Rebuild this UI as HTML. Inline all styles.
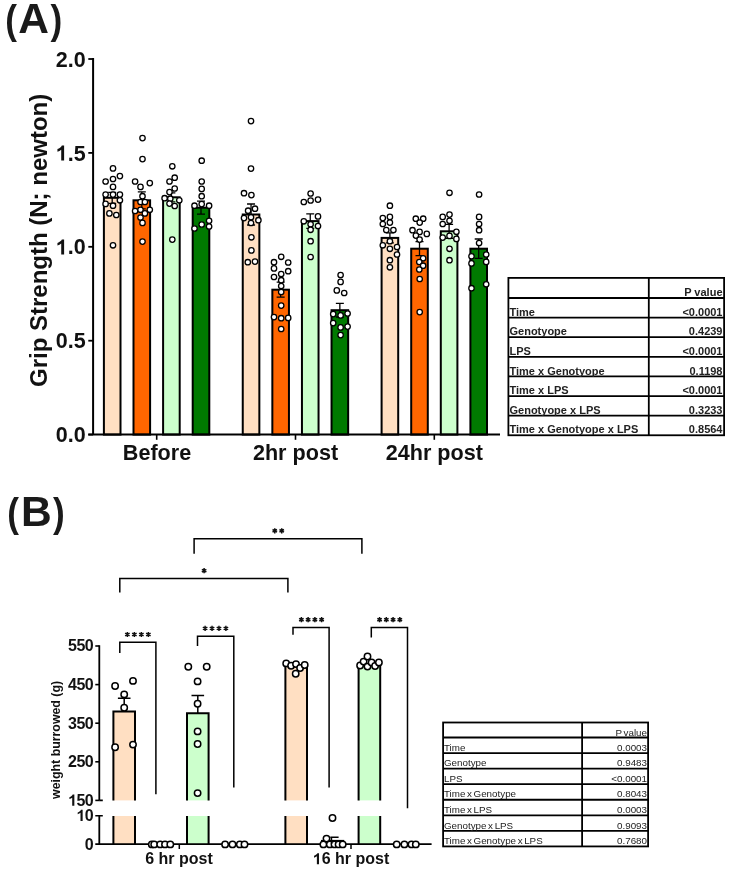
<!DOCTYPE html>
<html><head><meta charset="utf-8"><style>
html,body{margin:0;padding:0;background:#fff;}
svg{display:block;font-family:"Liberation Sans",sans-serif;filter:blur(0.3px);}
</style></head><body>
<svg width="733" height="871" viewBox="0 0 733 871">
<rect width="733" height="871" fill="#fff"/>
<g id="panelA">
<text transform="translate(5.35,33.6) scale(0.88,1)" font-size="40" font-weight="bold" fill="#1a1a1a">(</text>
<text x="18.2" y="33.2" font-size="42.5" font-weight="bold" fill="#1a1a1a">A</text>
<text transform="translate(50.6,33.6) scale(0.88,1)" font-size="40" font-weight="bold" fill="#1a1a1a">)</text>
<text transform="translate(46.5,240.4) rotate(-90)" text-anchor="middle" font-size="24" font-weight="bold" fill="#111">Grip Strength (N; newton)</text>
<rect x="103.90" y="197.80" width="16.60" height="236.80" fill="#FFDFC2" stroke="#000" stroke-width="2"/>
<rect x="133.50" y="200.30" width="16.60" height="234.30" fill="#FF6600" stroke="#000" stroke-width="2"/>
<rect x="163.10" y="197.30" width="16.60" height="237.30" fill="#CCFFCC" stroke="#000" stroke-width="2"/>
<rect x="192.70" y="207.70" width="16.60" height="226.90" fill="#007A00" stroke="#000" stroke-width="2"/>
<rect x="242.75" y="214.50" width="16.60" height="220.10" fill="#FFDFC2" stroke="#000" stroke-width="2"/>
<rect x="272.35" y="289.70" width="16.60" height="144.90" fill="#FF6600" stroke="#000" stroke-width="2"/>
<rect x="301.95" y="221.10" width="16.60" height="213.50" fill="#CCFFCC" stroke="#000" stroke-width="2"/>
<rect x="331.55" y="310.20" width="16.60" height="124.40" fill="#007A00" stroke="#000" stroke-width="2"/>
<rect x="381.60" y="237.90" width="16.60" height="196.70" fill="#FFDFC2" stroke="#000" stroke-width="2"/>
<rect x="411.20" y="248.70" width="16.60" height="185.90" fill="#FF6600" stroke="#000" stroke-width="2"/>
<rect x="440.80" y="231.30" width="16.60" height="203.30" fill="#CCFFCC" stroke="#000" stroke-width="2"/>
<rect x="470.40" y="248.70" width="16.60" height="185.90" fill="#007A00" stroke="#000" stroke-width="2"/>
<path d="M112.20 192.30V203.30M108.20 192.30H116.20M108.20 203.30H116.20" stroke="#000" stroke-width="1.3" fill="none"/>
<path d="M141.80 191.80V208.80M137.80 191.80H145.80M137.80 208.80H145.80" stroke="#000" stroke-width="1.3" fill="none"/>
<path d="M171.40 192.80V201.80M167.40 192.80H175.40M167.40 201.80H175.40" stroke="#000" stroke-width="1.3" fill="none"/>
<path d="M201.00 201.20V214.20M197.00 201.20H205.00M197.00 214.20H205.00" stroke="#000" stroke-width="1.3" fill="none"/>
<path d="M251.05 204.00V225.00M247.05 204.00H255.05M247.05 225.00H255.05" stroke="#000" stroke-width="1.3" fill="none"/>
<path d="M280.65 282.20V297.20M276.65 282.20H284.65M276.65 297.20H284.65" stroke="#000" stroke-width="1.3" fill="none"/>
<path d="M310.25 213.90V228.30M306.25 213.90H314.25M306.25 228.30H314.25" stroke="#000" stroke-width="1.3" fill="none"/>
<path d="M339.85 303.40V317.00M335.85 303.40H343.85M335.85 317.00H343.85" stroke="#000" stroke-width="1.3" fill="none"/>
<path d="M389.90 232.90V242.90M385.90 232.90H393.90M385.90 242.90H393.90" stroke="#000" stroke-width="1.3" fill="none"/>
<path d="M419.50 241.70V255.70M415.50 241.70H423.50M415.50 255.70H423.50" stroke="#000" stroke-width="1.3" fill="none"/>
<path d="M449.10 224.30V238.30M445.10 224.30H453.10M445.10 238.30H453.10" stroke="#000" stroke-width="1.3" fill="none"/>
<path d="M478.70 239.00V258.40M474.70 239.00H482.70M474.70 258.40H482.70" stroke="#000" stroke-width="1.3" fill="none"/>
<circle cx="113" cy="168.4" r="2.7" fill="#fff" stroke="#000" stroke-width="1.3"/>
<circle cx="119.9" cy="176.1" r="2.7" fill="#fff" stroke="#000" stroke-width="1.3"/>
<circle cx="105.6" cy="181.5" r="2.7" fill="#fff" stroke="#000" stroke-width="1.3"/>
<circle cx="113" cy="179" r="2.7" fill="#fff" stroke="#000" stroke-width="1.3"/>
<circle cx="113" cy="186.9" r="2.7" fill="#fff" stroke="#000" stroke-width="1.3"/>
<circle cx="105.6" cy="194.6" r="2.7" fill="#fff" stroke="#000" stroke-width="1.3"/>
<circle cx="113" cy="194.6" r="2.7" fill="#fff" stroke="#000" stroke-width="1.3"/>
<circle cx="119.9" cy="194.6" r="2.7" fill="#fff" stroke="#000" stroke-width="1.3"/>
<circle cx="119.9" cy="200.3" r="2.7" fill="#fff" stroke="#000" stroke-width="1.3"/>
<circle cx="105.6" cy="203.9" r="2.7" fill="#fff" stroke="#000" stroke-width="1.3"/>
<circle cx="113" cy="205.7" r="2.7" fill="#fff" stroke="#000" stroke-width="1.3"/>
<circle cx="109.4" cy="213.4" r="2.7" fill="#fff" stroke="#000" stroke-width="1.3"/>
<circle cx="116.3" cy="215" r="2.7" fill="#fff" stroke="#000" stroke-width="1.3"/>
<circle cx="113" cy="245.3" r="2.7" fill="#fff" stroke="#000" stroke-width="1.3"/>
<circle cx="142.5" cy="138.1" r="2.7" fill="#fff" stroke="#000" stroke-width="1.3"/>
<circle cx="142.5" cy="159.1" r="2.7" fill="#fff" stroke="#000" stroke-width="1.3"/>
<circle cx="135.1" cy="181.5" r="2.7" fill="#fff" stroke="#000" stroke-width="1.3"/>
<circle cx="149.8" cy="183.1" r="2.7" fill="#fff" stroke="#000" stroke-width="1.3"/>
<circle cx="140.5" cy="186.9" r="2.7" fill="#fff" stroke="#000" stroke-width="1.3"/>
<circle cx="142.5" cy="196.2" r="2.7" fill="#fff" stroke="#000" stroke-width="1.3"/>
<circle cx="140.5" cy="202" r="2.7" fill="#fff" stroke="#000" stroke-width="1.3"/>
<circle cx="144.9" cy="202" r="2.7" fill="#fff" stroke="#000" stroke-width="1.3"/>
<circle cx="135.1" cy="211" r="2.7" fill="#fff" stroke="#000" stroke-width="1.3"/>
<circle cx="140.5" cy="209.8" r="2.7" fill="#fff" stroke="#000" stroke-width="1.3"/>
<circle cx="149.8" cy="209.8" r="2.7" fill="#fff" stroke="#000" stroke-width="1.3"/>
<circle cx="144.9" cy="213.4" r="2.7" fill="#fff" stroke="#000" stroke-width="1.3"/>
<circle cx="140.5" cy="217.5" r="2.7" fill="#fff" stroke="#000" stroke-width="1.3"/>
<circle cx="142.5" cy="222.9" r="2.7" fill="#fff" stroke="#000" stroke-width="1.3"/>
<circle cx="142.5" cy="241.6" r="2.7" fill="#fff" stroke="#000" stroke-width="1.3"/>
<circle cx="172.3" cy="166.3" r="2.7" fill="#fff" stroke="#000" stroke-width="1.3"/>
<circle cx="174.7" cy="177.7" r="2.7" fill="#fff" stroke="#000" stroke-width="1.3"/>
<circle cx="169.5" cy="181.5" r="2.7" fill="#fff" stroke="#000" stroke-width="1.3"/>
<circle cx="174.7" cy="188.5" r="2.7" fill="#fff" stroke="#000" stroke-width="1.3"/>
<circle cx="169.5" cy="192.1" r="2.7" fill="#fff" stroke="#000" stroke-width="1.3"/>
<circle cx="164.6" cy="198.2" r="2.7" fill="#fff" stroke="#000" stroke-width="1.3"/>
<circle cx="170.3" cy="198.7" r="2.7" fill="#fff" stroke="#000" stroke-width="1.3"/>
<circle cx="179.3" cy="200.3" r="2.7" fill="#fff" stroke="#000" stroke-width="1.3"/>
<circle cx="169.5" cy="203.6" r="2.7" fill="#fff" stroke="#000" stroke-width="1.3"/>
<circle cx="174.7" cy="206" r="2.7" fill="#fff" stroke="#000" stroke-width="1.3"/>
<circle cx="172.3" cy="239.6" r="2.7" fill="#fff" stroke="#000" stroke-width="1.3"/>
<circle cx="201.7" cy="160.7" r="2.7" fill="#fff" stroke="#000" stroke-width="1.3"/>
<circle cx="201.7" cy="181.5" r="2.7" fill="#fff" stroke="#000" stroke-width="1.3"/>
<circle cx="201.7" cy="188.9" r="2.7" fill="#fff" stroke="#000" stroke-width="1.3"/>
<circle cx="201.7" cy="196.2" r="2.7" fill="#fff" stroke="#000" stroke-width="1.3"/>
<circle cx="194.5" cy="205.7" r="2.7" fill="#fff" stroke="#000" stroke-width="1.3"/>
<circle cx="201.7" cy="204.1" r="2.7" fill="#fff" stroke="#000" stroke-width="1.3"/>
<circle cx="209.1" cy="205.7" r="2.7" fill="#fff" stroke="#000" stroke-width="1.3"/>
<circle cx="209.1" cy="220.8" r="2.7" fill="#fff" stroke="#000" stroke-width="1.3"/>
<circle cx="201.7" cy="224.5" r="2.7" fill="#fff" stroke="#000" stroke-width="1.3"/>
<circle cx="209.1" cy="226.5" r="2.7" fill="#fff" stroke="#000" stroke-width="1.3"/>
<circle cx="194.5" cy="228.5" r="2.7" fill="#fff" stroke="#000" stroke-width="1.3"/>
<circle cx="251" cy="121.1" r="2.7" fill="#fff" stroke="#000" stroke-width="1.3"/>
<circle cx="251" cy="168.6" r="2.7" fill="#fff" stroke="#000" stroke-width="1.3"/>
<circle cx="244" cy="193.2" r="2.7" fill="#fff" stroke="#000" stroke-width="1.3"/>
<circle cx="251.4" cy="195.1" r="2.7" fill="#fff" stroke="#000" stroke-width="1.3"/>
<circle cx="248.1" cy="210.7" r="2.7" fill="#fff" stroke="#000" stroke-width="1.3"/>
<circle cx="255" cy="208.7" r="2.7" fill="#fff" stroke="#000" stroke-width="1.3"/>
<circle cx="244" cy="218.1" r="2.7" fill="#fff" stroke="#000" stroke-width="1.3"/>
<circle cx="251" cy="217.2" r="2.7" fill="#fff" stroke="#000" stroke-width="1.3"/>
<circle cx="258.4" cy="220.2" r="2.7" fill="#fff" stroke="#000" stroke-width="1.3"/>
<circle cx="251" cy="223" r="2.7" fill="#fff" stroke="#000" stroke-width="1.3"/>
<circle cx="251.4" cy="237.3" r="2.7" fill="#fff" stroke="#000" stroke-width="1.3"/>
<circle cx="251.4" cy="250.4" r="2.7" fill="#fff" stroke="#000" stroke-width="1.3"/>
<circle cx="247.8" cy="262.2" r="2.7" fill="#fff" stroke="#000" stroke-width="1.3"/>
<circle cx="255" cy="261.6" r="2.7" fill="#fff" stroke="#000" stroke-width="1.3"/>
<circle cx="281.2" cy="256.8" r="2.7" fill="#fff" stroke="#000" stroke-width="1.3"/>
<circle cx="274" cy="262.2" r="2.7" fill="#fff" stroke="#000" stroke-width="1.3"/>
<circle cx="288.2" cy="262.5" r="2.7" fill="#fff" stroke="#000" stroke-width="1.3"/>
<circle cx="274" cy="268.4" r="2.7" fill="#fff" stroke="#000" stroke-width="1.3"/>
<circle cx="288.2" cy="271.2" r="2.7" fill="#fff" stroke="#000" stroke-width="1.3"/>
<circle cx="281.2" cy="274" r="2.7" fill="#fff" stroke="#000" stroke-width="1.3"/>
<circle cx="274" cy="277" r="2.7" fill="#fff" stroke="#000" stroke-width="1.3"/>
<circle cx="281.2" cy="280.2" r="2.7" fill="#fff" stroke="#000" stroke-width="1.3"/>
<circle cx="281.2" cy="286" r="2.7" fill="#fff" stroke="#000" stroke-width="1.3"/>
<circle cx="281.2" cy="292" r="2.7" fill="#fff" stroke="#000" stroke-width="1.3"/>
<circle cx="281.2" cy="305.6" r="2.7" fill="#fff" stroke="#000" stroke-width="1.3"/>
<circle cx="274" cy="317.1" r="2.7" fill="#fff" stroke="#000" stroke-width="1.3"/>
<circle cx="281.2" cy="318.2" r="2.7" fill="#fff" stroke="#000" stroke-width="1.3"/>
<circle cx="288.2" cy="317.9" r="2.7" fill="#fff" stroke="#000" stroke-width="1.3"/>
<circle cx="281.2" cy="329" r="2.7" fill="#fff" stroke="#000" stroke-width="1.3"/>
<circle cx="310.6" cy="193.5" r="2.7" fill="#fff" stroke="#000" stroke-width="1.3"/>
<circle cx="303.8" cy="202" r="2.7" fill="#fff" stroke="#000" stroke-width="1.3"/>
<circle cx="310.6" cy="200.5" r="2.7" fill="#fff" stroke="#000" stroke-width="1.3"/>
<circle cx="318" cy="199.6" r="2.7" fill="#fff" stroke="#000" stroke-width="1.3"/>
<circle cx="318" cy="216.4" r="2.7" fill="#fff" stroke="#000" stroke-width="1.3"/>
<circle cx="303.8" cy="221.3" r="2.7" fill="#fff" stroke="#000" stroke-width="1.3"/>
<circle cx="310.6" cy="224.2" r="2.7" fill="#fff" stroke="#000" stroke-width="1.3"/>
<circle cx="318" cy="226" r="2.7" fill="#fff" stroke="#000" stroke-width="1.3"/>
<circle cx="310.6" cy="229.8" r="2.7" fill="#fff" stroke="#000" stroke-width="1.3"/>
<circle cx="310.6" cy="241.2" r="2.7" fill="#fff" stroke="#000" stroke-width="1.3"/>
<circle cx="310.6" cy="257" r="2.7" fill="#fff" stroke="#000" stroke-width="1.3"/>
<circle cx="340.6" cy="275" r="2.7" fill="#fff" stroke="#000" stroke-width="1.3"/>
<circle cx="340.6" cy="281.9" r="2.7" fill="#fff" stroke="#000" stroke-width="1.3"/>
<circle cx="336.8" cy="290.4" r="2.7" fill="#fff" stroke="#000" stroke-width="1.3"/>
<circle cx="344.2" cy="293" r="2.7" fill="#fff" stroke="#000" stroke-width="1.3"/>
<circle cx="333.2" cy="314.1" r="2.7" fill="#fff" stroke="#000" stroke-width="1.3"/>
<circle cx="340.6" cy="315.4" r="2.7" fill="#fff" stroke="#000" stroke-width="1.3"/>
<circle cx="347.6" cy="313.5" r="2.7" fill="#fff" stroke="#000" stroke-width="1.3"/>
<circle cx="333.2" cy="323.1" r="2.7" fill="#fff" stroke="#000" stroke-width="1.3"/>
<circle cx="340.6" cy="327.4" r="2.7" fill="#fff" stroke="#000" stroke-width="1.3"/>
<circle cx="347.6" cy="326.6" r="2.7" fill="#fff" stroke="#000" stroke-width="1.3"/>
<circle cx="340.6" cy="335.1" r="2.7" fill="#fff" stroke="#000" stroke-width="1.3"/>
<circle cx="389.9" cy="205.7" r="2.7" fill="#fff" stroke="#000" stroke-width="1.3"/>
<circle cx="382.8" cy="218.1" r="2.7" fill="#fff" stroke="#000" stroke-width="1.3"/>
<circle cx="389.9" cy="216.9" r="2.7" fill="#fff" stroke="#000" stroke-width="1.3"/>
<circle cx="382.8" cy="224" r="2.7" fill="#fff" stroke="#000" stroke-width="1.3"/>
<circle cx="389.9" cy="222.6" r="2.7" fill="#fff" stroke="#000" stroke-width="1.3"/>
<circle cx="386.3" cy="230" r="2.7" fill="#fff" stroke="#000" stroke-width="1.3"/>
<circle cx="393.4" cy="230" r="2.7" fill="#fff" stroke="#000" stroke-width="1.3"/>
<circle cx="389.9" cy="241.2" r="2.7" fill="#fff" stroke="#000" stroke-width="1.3"/>
<circle cx="382.8" cy="245.3" r="2.7" fill="#fff" stroke="#000" stroke-width="1.3"/>
<circle cx="389.9" cy="248.8" r="2.7" fill="#fff" stroke="#000" stroke-width="1.3"/>
<circle cx="397" cy="247" r="2.7" fill="#fff" stroke="#000" stroke-width="1.3"/>
<circle cx="397" cy="254.5" r="2.7" fill="#fff" stroke="#000" stroke-width="1.3"/>
<circle cx="389.9" cy="260.2" r="2.7" fill="#fff" stroke="#000" stroke-width="1.3"/>
<circle cx="389.9" cy="267.3" r="2.7" fill="#fff" stroke="#000" stroke-width="1.3"/>
<circle cx="415.8" cy="218.7" r="2.7" fill="#fff" stroke="#000" stroke-width="1.3"/>
<circle cx="423.2" cy="218.7" r="2.7" fill="#fff" stroke="#000" stroke-width="1.3"/>
<circle cx="419.7" cy="222.6" r="2.7" fill="#fff" stroke="#000" stroke-width="1.3"/>
<circle cx="412.5" cy="230.2" r="2.7" fill="#fff" stroke="#000" stroke-width="1.3"/>
<circle cx="419.6" cy="231.9" r="2.7" fill="#fff" stroke="#000" stroke-width="1.3"/>
<circle cx="426.8" cy="233.9" r="2.7" fill="#fff" stroke="#000" stroke-width="1.3"/>
<circle cx="415.9" cy="235.6" r="2.7" fill="#fff" stroke="#000" stroke-width="1.3"/>
<circle cx="419.6" cy="239.6" r="2.7" fill="#fff" stroke="#000" stroke-width="1.3"/>
<circle cx="423.1" cy="258.3" r="2.7" fill="#fff" stroke="#000" stroke-width="1.3"/>
<circle cx="419.3" cy="262" r="2.7" fill="#fff" stroke="#000" stroke-width="1.3"/>
<circle cx="423.1" cy="265.7" r="2.7" fill="#fff" stroke="#000" stroke-width="1.3"/>
<circle cx="419.3" cy="269.5" r="2.7" fill="#fff" stroke="#000" stroke-width="1.3"/>
<circle cx="419.7" cy="279" r="2.7" fill="#fff" stroke="#000" stroke-width="1.3"/>
<circle cx="419.7" cy="312.1" r="2.7" fill="#fff" stroke="#000" stroke-width="1.3"/>
<circle cx="449.5" cy="192.8" r="2.7" fill="#fff" stroke="#000" stroke-width="1.3"/>
<circle cx="442.7" cy="216.9" r="2.7" fill="#fff" stroke="#000" stroke-width="1.3"/>
<circle cx="449.5" cy="214.6" r="2.7" fill="#fff" stroke="#000" stroke-width="1.3"/>
<circle cx="449.5" cy="220.8" r="2.7" fill="#fff" stroke="#000" stroke-width="1.3"/>
<circle cx="442.7" cy="224" r="2.7" fill="#fff" stroke="#000" stroke-width="1.3"/>
<circle cx="456.4" cy="231.8" r="2.7" fill="#fff" stroke="#000" stroke-width="1.3"/>
<circle cx="442.7" cy="237.6" r="2.7" fill="#fff" stroke="#000" stroke-width="1.3"/>
<circle cx="449.5" cy="235.9" r="2.7" fill="#fff" stroke="#000" stroke-width="1.3"/>
<circle cx="456.4" cy="238.9" r="2.7" fill="#fff" stroke="#000" stroke-width="1.3"/>
<circle cx="449.5" cy="248.8" r="2.7" fill="#fff" stroke="#000" stroke-width="1.3"/>
<circle cx="449.5" cy="260.2" r="2.7" fill="#fff" stroke="#000" stroke-width="1.3"/>
<circle cx="479.1" cy="194.5" r="2.7" fill="#fff" stroke="#000" stroke-width="1.3"/>
<circle cx="479.1" cy="216.9" r="2.7" fill="#fff" stroke="#000" stroke-width="1.3"/>
<circle cx="479.1" cy="224" r="2.7" fill="#fff" stroke="#000" stroke-width="1.3"/>
<circle cx="479.1" cy="230.2" r="2.7" fill="#fff" stroke="#000" stroke-width="1.3"/>
<circle cx="479.1" cy="243" r="2.7" fill="#fff" stroke="#000" stroke-width="1.3"/>
<circle cx="471.5" cy="256.3" r="2.7" fill="#fff" stroke="#000" stroke-width="1.3"/>
<circle cx="486.2" cy="254.5" r="2.7" fill="#fff" stroke="#000" stroke-width="1.3"/>
<circle cx="471.5" cy="263.4" r="2.7" fill="#fff" stroke="#000" stroke-width="1.3"/>
<circle cx="486.2" cy="261.9" r="2.7" fill="#fff" stroke="#000" stroke-width="1.3"/>
<circle cx="486.2" cy="284.3" r="2.7" fill="#fff" stroke="#000" stroke-width="1.3"/>
<circle cx="471.5" cy="288.2" r="2.7" fill="#fff" stroke="#000" stroke-width="1.3"/>
<path d="M93.1 58V435.6M88.3 434.6H500" stroke="#000" stroke-width="2" fill="none"/>
<path d="M88.3 434.60H93.1" stroke="#000" stroke-width="1.8"/>
<text x="55.71" y="442.20" font-size="21.5" font-weight="bold" fill="#111">0.0</text>
<path d="M88.3 340.70H93.1" stroke="#000" stroke-width="1.8"/>
<text x="55.71" y="348.30" font-size="21.5" font-weight="bold" fill="#111">0.5</text>
<path d="M88.3 246.80H93.1" stroke="#000" stroke-width="1.8"/>
<path transform="translate(55.71,254.40) scale(0.01050,-0.01050)" d="M800 0L525 0L525 1030C430 945 300 880 165 842L165 1090C260 1120 355 1170 440 1245C520 1315 565 1380 585 1430L800 1430Z" fill="#111"/>
<text x="67.67" y="254.40" font-size="21.5" font-weight="bold" fill="#111">.0</text>
<path d="M88.3 152.90H93.1" stroke="#000" stroke-width="1.8"/>
<path transform="translate(55.71,160.50) scale(0.01050,-0.01050)" d="M800 0L525 0L525 1030C430 945 300 880 165 842L165 1090C260 1120 355 1170 440 1245C520 1315 565 1380 585 1430L800 1430Z" fill="#111"/>
<text x="67.67" y="160.50" font-size="21.5" font-weight="bold" fill="#111">.5</text>
<path d="M88.3 59.00H93.1" stroke="#000" stroke-width="1.8"/>
<text x="55.71" y="66.60" font-size="21.5" font-weight="bold" fill="#111">2.0</text>
<path d="M156.7 434.4V439.8" stroke="#000" stroke-width="1.6"/>
<path d="M295.5 434.4V439.8" stroke="#000" stroke-width="1.6"/>
<path d="M434.3 434.4V439.8" stroke="#000" stroke-width="1.6"/>
<text x="157" y="460.2" text-anchor="middle" font-size="21.6" font-weight="bold" fill="#111">Before</text>
<text x="295.5" y="460.2" text-anchor="middle" font-size="21.6" font-weight="bold" fill="#111">2hr post</text>
<text x="434.3" y="460.2" text-anchor="middle" font-size="21.6" font-weight="bold" fill="#111">24hr post</text>
</g>
<g id="tableA">
<rect x="508.4" y="277.9" width="215.70000000000005" height="157.37" fill="none" stroke="#000" stroke-width="1.8"/>
<path d="M648.8 277.9V435.27" stroke="#000" stroke-width="1.8"/>
<path d="M508.4 298.00H724.1" stroke="#000" stroke-width="1.8"/>
<path d="M508.4 317.61H724.1" stroke="#000" stroke-width="1.8"/>
<path d="M508.4 337.22H724.1" stroke="#000" stroke-width="1.8"/>
<path d="M508.4 356.83H724.1" stroke="#000" stroke-width="1.8"/>
<path d="M508.4 376.44H724.1" stroke="#000" stroke-width="1.8"/>
<path d="M508.4 396.05H724.1" stroke="#000" stroke-width="1.8"/>
<path d="M508.4 415.66H724.1" stroke="#000" stroke-width="1.8"/>
<text x="722.5" y="295.70" text-anchor="end" font-size="11" font-weight="bold" fill="#222">P value</text>
<text x="509.5" y="315.71" font-size="11" font-weight="bold" fill="#222">Time</text>
<text x="722.5" y="315.71" text-anchor="end" font-size="11" font-weight="bold" fill="#222"><0.0001</text>
<text x="509.5" y="335.32" font-size="11" font-weight="bold" fill="#222">Genotyope</text>
<text x="722.5" y="335.32" text-anchor="end" font-size="11" font-weight="bold" fill="#222">0.4239</text>
<text x="509.5" y="354.93" font-size="11" font-weight="bold" fill="#222">LPS</text>
<text x="722.5" y="354.93" text-anchor="end" font-size="11" font-weight="bold" fill="#222"><0.0001</text>
<text x="509.5" y="374.54" font-size="11" font-weight="bold" fill="#222">Time x Genotyope</text>
<text x="722.5" y="374.54" text-anchor="end" font-size="11" font-weight="bold" fill="#222">0.1198</text>
<text x="509.5" y="394.15" font-size="11" font-weight="bold" fill="#222">Time x LPS</text>
<text x="722.5" y="394.15" text-anchor="end" font-size="11" font-weight="bold" fill="#222"><0.0001</text>
<text x="509.5" y="413.76" font-size="11" font-weight="bold" fill="#222">Genotyope x LPS</text>
<text x="722.5" y="413.76" text-anchor="end" font-size="11" font-weight="bold" fill="#222">0.3233</text>
<text x="509.5" y="433.37" font-size="11" font-weight="bold" fill="#222">Time x Genotyope x LPS</text>
<text x="722.5" y="433.37" text-anchor="end" font-size="11" font-weight="bold" fill="#222">0.8564</text>
</g>
<g id="panelB">
<text transform="translate(7.25,527.2) scale(0.88,1)" font-size="40" font-weight="bold" fill="#1a1a1a">(</text>
<text x="20.9" y="526.3" font-size="42.5" font-weight="bold" fill="#1a1a1a">B</text>
<text transform="translate(53,527.2) scale(0.88,1)" font-size="40" font-weight="bold" fill="#1a1a1a">)</text>
<text transform="translate(60.3,739.9) rotate(-90)" text-anchor="middle" font-size="12" font-weight="bold" fill="#111" textLength="118" lengthAdjust="spacingAndGlyphs">weight burrowed (g)</text>
<rect x="113.40" y="711.50" width="21.60" height="88.90" fill="#FFDFC2"/>
<rect x="113.40" y="816.0" width="21.60" height="28.10" fill="#FFDFC2"/>
<path d="M113.40 800.4V711.50H135.00V800.4M113.40 816V844.1M135.00 816V844.1" stroke="#000" stroke-width="2" fill="none"/>
<rect x="187.00" y="713.20" width="21.60" height="87.20" fill="#CCFFCC"/>
<rect x="187.00" y="816.0" width="21.60" height="28.10" fill="#CCFFCC"/>
<path d="M187.00 800.4V713.20H208.60V800.4M187.00 816V844.1M208.60 816V844.1" stroke="#000" stroke-width="2" fill="none"/>
<rect x="285.40" y="665.50" width="21.60" height="134.90" fill="#FFDFC2"/>
<rect x="285.40" y="816.0" width="21.60" height="28.10" fill="#FFDFC2"/>
<path d="M285.40 800.4V665.50H307.00V800.4M285.40 816V844.1M307.00 816V844.1" stroke="#000" stroke-width="2" fill="none"/>
<rect x="358.60" y="664.50" width="21.60" height="135.90" fill="#CCFFCC"/>
<rect x="358.60" y="816.0" width="21.60" height="28.10" fill="#CCFFCC"/>
<path d="M358.60 800.4V664.50H380.20V800.4M358.60 816V844.1M380.20 816V844.1" stroke="#000" stroke-width="2" fill="none"/>
<rect x="321.8" y="840.7" width="21.6" height="3.4" fill="#fff" stroke="#000" stroke-width="1.6"/>
<path d="M124.2 711.5V698.20M117.90 698.20H130.50" stroke="#000" stroke-width="1.5" fill="none"/>
<path d="M197.8 713.2V695.40M191.50 695.40H204.10" stroke="#000" stroke-width="1.5" fill="none"/>
<path d="M99.3 645.3V800.4M99.3 815.7V844.1M95.3 844.1H431.6" stroke="#000" stroke-width="1.8" fill="none"/>
<path d="M95.3 646.00H99.3" stroke="#000" stroke-width="1.6"/>
<text x="68.10" y="651.30" font-size="16" font-weight="bold" letter-spacing="-0.6" fill="#111">550</text>
<path d="M95.3 684.60H99.3" stroke="#000" stroke-width="1.6"/>
<text x="68.10" y="689.90" font-size="16" font-weight="bold" letter-spacing="-0.6" fill="#111">450</text>
<path d="M95.3 723.20H99.3" stroke="#000" stroke-width="1.6"/>
<text x="68.10" y="728.50" font-size="16" font-weight="bold" letter-spacing="-0.6" fill="#111">350</text>
<path d="M95.3 761.80H99.3" stroke="#000" stroke-width="1.6"/>
<text x="68.10" y="767.10" font-size="16" font-weight="bold" letter-spacing="-0.6" fill="#111">250</text>
<path d="M95.3 800.40H99.3" stroke="#000" stroke-width="1.6"/>
<path transform="translate(68.10,805.70) scale(0.00781,-0.00781)" d="M800 0L525 0L525 1030C430 945 300 880 165 842L165 1090C260 1120 355 1170 440 1245C520 1315 565 1380 585 1430L800 1430Z" fill="#111"/>
<text x="76.40" y="805.70" font-size="16" font-weight="bold" letter-spacing="-0.6" fill="#111">50</text>
<path d="M99.3 800.4H102.8M95.3 815.7H102.8" stroke="#000" stroke-width="1.6"/>
<path transform="translate(76.40,820.90) scale(0.00781,-0.00781)" d="M800 0L525 0L525 1030C430 945 300 880 165 842L165 1090C260 1120 355 1170 440 1245C520 1315 565 1380 585 1430L800 1430Z" fill="#111"/>
<text x="84.70" y="820.90" font-size="16" font-weight="bold" letter-spacing="-0.6" fill="#111">0</text>
<text x="84.70" y="849.60" font-size="16" font-weight="bold" letter-spacing="-0.6" fill="#111">0</text>
<path d="M179.3 844.1V849" stroke="#000" stroke-width="1.5"/>
<path d="M351 844.1V849" stroke="#000" stroke-width="1.5"/>
<text x="145.22" y="864.30" font-size="16" font-weight="bold" fill="#111">6 hr post</text>
<path transform="translate(312.77,864.30) scale(0.00781,-0.00781)" d="M800 0L525 0L525 1030C430 945 300 880 165 842L165 1090C260 1120 355 1170 440 1245C520 1315 565 1380 585 1430L800 1430Z" fill="#111"/>
<text x="321.67" y="864.30" font-size="16" font-weight="bold" fill="#111">6 hr post</text>
<path d="M119.8 592.6V578.5H287.9V592.6" stroke="#000" stroke-width="1.5" fill="none"/>
<path d="M204.10 568.10L204.10 573.30M201.85 569.40L206.35 572.00M206.35 569.40L201.85 572.00" stroke="#111" stroke-width="1.5" fill="none"/>
<path d="M194.1 553.8V538.8H361.9V553.8" stroke="#000" stroke-width="1.5" fill="none"/>
<path d="M274.77 528.20L274.77 533.40M272.52 529.50L277.03 532.10M277.03 529.50L272.52 532.10" stroke="#111" stroke-width="1.5" fill="none"/>
<path d="M281.73 528.20L281.73 533.40M279.47 529.50L283.98 532.10M283.98 529.50L279.47 532.10" stroke="#111" stroke-width="1.5" fill="none"/>
<path d="M119.8 653V642.2H155.9V794.2" stroke="#000" stroke-width="1.5" fill="none"/>
<path d="M127.35 631.90L127.35 637.10M125.10 633.20L129.60 635.80M129.60 633.20L125.10 635.80" stroke="#111" stroke-width="1.5" fill="none"/>
<path d="M134.35 631.90L134.35 637.10M132.10 633.20L136.60 635.80M136.60 633.20L132.10 635.80" stroke="#111" stroke-width="1.5" fill="none"/>
<path d="M141.35 631.90L141.35 637.10M139.10 633.20L143.60 635.80M143.60 633.20L139.10 635.80" stroke="#111" stroke-width="1.5" fill="none"/>
<path d="M148.35 631.90L148.35 637.10M146.10 633.20L150.60 635.80M150.60 633.20L146.10 635.80" stroke="#111" stroke-width="1.5" fill="none"/>
<path d="M197.5 646.1V636.3H233.8V787.4" stroke="#000" stroke-width="1.5" fill="none"/>
<path d="M205.10 625.80L205.10 631.00M202.85 627.10L207.36 629.70M207.36 627.10L202.85 629.70" stroke="#111" stroke-width="1.5" fill="none"/>
<path d="M212.03 625.80L212.03 631.00M209.78 627.10L214.29 629.70M214.29 627.10L209.78 629.70" stroke="#111" stroke-width="1.5" fill="none"/>
<path d="M218.97 625.80L218.97 631.00M216.71 627.10L221.22 629.70M221.22 627.10L216.71 629.70" stroke="#111" stroke-width="1.5" fill="none"/>
<path d="M225.90 625.80L225.90 631.00M223.64 627.10L228.15 629.70M228.15 627.10L223.64 629.70" stroke="#111" stroke-width="1.5" fill="none"/>
<path d="M293 634.8V627.5H329.1V787.4" stroke="#000" stroke-width="1.5" fill="none"/>
<path d="M301.38 617.10L301.38 622.30M299.12 618.40L303.63 621.00M303.63 618.40L299.12 621.00" stroke="#111" stroke-width="1.5" fill="none"/>
<path d="M308.12 617.10L308.12 622.30M305.87 618.40L310.38 621.00M310.38 618.40L305.87 621.00" stroke="#111" stroke-width="1.5" fill="none"/>
<path d="M314.88 617.10L314.88 622.30M312.62 618.40L317.13 621.00M317.13 618.40L312.62 621.00" stroke="#111" stroke-width="1.5" fill="none"/>
<path d="M321.62 617.10L321.62 622.30M319.37 618.40L323.88 621.00M323.88 618.40L319.37 621.00" stroke="#111" stroke-width="1.5" fill="none"/>
<path d="M371.3 637.4V627.5H407.5V808.2" stroke="#000" stroke-width="1.5" fill="none"/>
<path d="M379.57 617.10L379.57 622.30M377.32 618.40L381.83 621.00M381.83 618.40L377.32 621.00" stroke="#111" stroke-width="1.5" fill="none"/>
<path d="M386.32 617.10L386.32 622.30M384.07 618.40L388.58 621.00M388.58 618.40L384.07 621.00" stroke="#111" stroke-width="1.5" fill="none"/>
<path d="M393.07 617.10L393.07 622.30M390.82 618.40L395.33 621.00M395.33 618.40L390.82 621.00" stroke="#111" stroke-width="1.5" fill="none"/>
<path d="M399.82 617.10L399.82 622.30M397.57 618.40L402.08 621.00M402.08 618.40L397.57 621.00" stroke="#111" stroke-width="1.5" fill="none"/>
<circle cx="115.10" cy="686.00" r="3.2" fill="#fff" stroke="#000" stroke-width="1.5"/>
<circle cx="133.00" cy="680.90" r="3.2" fill="#fff" stroke="#000" stroke-width="1.5"/>
<circle cx="124.20" cy="694.40" r="3.2" fill="#fff" stroke="#000" stroke-width="1.5"/>
<circle cx="124.20" cy="707.80" r="3.2" fill="#fff" stroke="#000" stroke-width="1.5"/>
<circle cx="115.10" cy="747.20" r="3.2" fill="#fff" stroke="#000" stroke-width="1.5"/>
<circle cx="133.00" cy="744.60" r="3.2" fill="#fff" stroke="#000" stroke-width="1.5"/>
<circle cx="188.30" cy="666.70" r="3.2" fill="#fff" stroke="#000" stroke-width="1.5"/>
<circle cx="206.70" cy="666.70" r="3.2" fill="#fff" stroke="#000" stroke-width="1.5"/>
<circle cx="197.60" cy="681.40" r="3.2" fill="#fff" stroke="#000" stroke-width="1.5"/>
<circle cx="197.60" cy="703.80" r="3.2" fill="#fff" stroke="#000" stroke-width="1.5"/>
<circle cx="197.60" cy="731.40" r="3.2" fill="#fff" stroke="#000" stroke-width="1.5"/>
<circle cx="197.60" cy="744.00" r="3.2" fill="#fff" stroke="#000" stroke-width="1.5"/>
<circle cx="197.60" cy="793.10" r="3.2" fill="#fff" stroke="#000" stroke-width="1.5"/>
<circle cx="286.20" cy="663.40" r="3.2" fill="#fff" stroke="#000" stroke-width="1.5"/>
<circle cx="291.10" cy="665.80" r="3.2" fill="#fff" stroke="#000" stroke-width="1.5"/>
<circle cx="296.00" cy="664.10" r="3.2" fill="#fff" stroke="#000" stroke-width="1.5"/>
<circle cx="300.10" cy="668.00" r="3.2" fill="#fff" stroke="#000" stroke-width="1.5"/>
<circle cx="304.70" cy="665.00" r="3.2" fill="#fff" stroke="#000" stroke-width="1.5"/>
<circle cx="295.70" cy="673.70" r="3.2" fill="#fff" stroke="#000" stroke-width="1.5"/>
<circle cx="360.10" cy="665.50" r="3.2" fill="#fff" stroke="#000" stroke-width="1.5"/>
<circle cx="363.60" cy="661.60" r="3.2" fill="#fff" stroke="#000" stroke-width="1.5"/>
<circle cx="367.50" cy="656.50" r="3.2" fill="#fff" stroke="#000" stroke-width="1.5"/>
<circle cx="367.50" cy="666.60" r="3.2" fill="#fff" stroke="#000" stroke-width="1.5"/>
<circle cx="371.60" cy="662.50" r="3.2" fill="#fff" stroke="#000" stroke-width="1.5"/>
<circle cx="375.10" cy="666.00" r="3.2" fill="#fff" stroke="#000" stroke-width="1.5"/>
<circle cx="378.90" cy="662.50" r="3.2" fill="#fff" stroke="#000" stroke-width="1.5"/>
<circle cx="332.50" cy="818.00" r="3.2" fill="#fff" stroke="#000" stroke-width="1.5"/>
<circle cx="151.80" cy="844.40" r="3.2" fill="#fff" stroke="#000" stroke-width="1.5"/>
<circle cx="154.20" cy="844.40" r="3.2" fill="#fff" stroke="#000" stroke-width="1.5"/>
<circle cx="160.20" cy="844.40" r="3.2" fill="#fff" stroke="#000" stroke-width="1.5"/>
<circle cx="165.00" cy="844.40" r="3.2" fill="#fff" stroke="#000" stroke-width="1.5"/>
<circle cx="170.30" cy="844.40" r="3.2" fill="#fff" stroke="#000" stroke-width="1.5"/>
<circle cx="225.10" cy="844.40" r="3.2" fill="#fff" stroke="#000" stroke-width="1.5"/>
<circle cx="232.50" cy="844.40" r="3.2" fill="#fff" stroke="#000" stroke-width="1.5"/>
<circle cx="239.80" cy="844.40" r="3.2" fill="#fff" stroke="#000" stroke-width="1.5"/>
<circle cx="244.50" cy="844.40" r="3.2" fill="#fff" stroke="#000" stroke-width="1.5"/>
<circle cx="396.70" cy="844.40" r="3.2" fill="#fff" stroke="#000" stroke-width="1.5"/>
<circle cx="404.40" cy="844.40" r="3.2" fill="#fff" stroke="#000" stroke-width="1.5"/>
<circle cx="411.50" cy="844.40" r="3.2" fill="#fff" stroke="#000" stroke-width="1.5"/>
<circle cx="415.80" cy="844.40" r="3.2" fill="#fff" stroke="#000" stroke-width="1.5"/>
<circle cx="323.40" cy="844.40" r="3.2" fill="#fff" stroke="#000" stroke-width="1.5"/>
<circle cx="329.80" cy="844.40" r="3.2" fill="#fff" stroke="#000" stroke-width="1.5"/>
<circle cx="334.50" cy="844.40" r="3.2" fill="#fff" stroke="#000" stroke-width="1.5"/>
<circle cx="338.60" cy="844.40" r="3.2" fill="#fff" stroke="#000" stroke-width="1.5"/>
<circle cx="342.70" cy="844.40" r="3.2" fill="#fff" stroke="#000" stroke-width="1.5"/>
<circle cx="326.50" cy="838.60" r="3.2" fill="#fff" stroke="#000" stroke-width="1.5"/>
<path d="M331.5 844V837.2M330.3 837.2H338.6" stroke="#000" stroke-width="1.4" fill="none"/>
</g>
<g id="tableB">
<rect x="443.1" y="722.5" width="205.00" height="123.92" fill="none" stroke="#000" stroke-width="1.8"/>
<path d="M582.1 722.5V846.42" stroke="#000" stroke-width="1.8"/>
<path d="M443.1 737.50H648.1" stroke="#000" stroke-width="1.8"/>
<path d="M443.1 753.06H648.1" stroke="#000" stroke-width="1.8"/>
<path d="M443.1 768.62H648.1" stroke="#000" stroke-width="1.8"/>
<path d="M443.1 784.18H648.1" stroke="#000" stroke-width="1.8"/>
<path d="M443.1 799.74H648.1" stroke="#000" stroke-width="1.8"/>
<path d="M443.1 815.30H648.1" stroke="#000" stroke-width="1.8"/>
<path d="M443.1 830.86H648.1" stroke="#000" stroke-width="1.8"/>
<text x="647" y="735.50" text-anchor="end" font-size="9.8" word-spacing="-1.1" fill="#222">P value</text>
<text x="444" y="750.76" font-size="9.8" word-spacing="-1.1" fill="#222">Time</text>
<text x="647" y="750.76" text-anchor="end" font-size="9.8" fill="#222">0.0003</text>
<text x="444" y="766.32" font-size="9.8" word-spacing="-1.1" fill="#222">Genotype</text>
<text x="647" y="766.32" text-anchor="end" font-size="9.8" fill="#222">0.9483</text>
<text x="444" y="781.88" font-size="9.8" word-spacing="-1.1" fill="#222">LPS</text>
<text x="647" y="781.88" text-anchor="end" font-size="9.8" fill="#222"><0.0001</text>
<text x="444" y="797.44" font-size="9.8" word-spacing="-1.1" fill="#222">Time x Genotype</text>
<text x="647" y="797.44" text-anchor="end" font-size="9.8" fill="#222">0.8043</text>
<text x="444" y="813.00" font-size="9.8" word-spacing="-1.1" fill="#222">Time x LPS</text>
<text x="647" y="813.00" text-anchor="end" font-size="9.8" fill="#222">0.0003</text>
<text x="444" y="828.56" font-size="9.8" word-spacing="-1.1" fill="#222">Genotype x LPS</text>
<text x="647" y="828.56" text-anchor="end" font-size="9.8" fill="#222">0.9093</text>
<text x="444" y="844.12" font-size="9.8" word-spacing="-1.1" fill="#222">Time x Genotype x LPS</text>
<text x="647" y="844.12" text-anchor="end" font-size="9.8" fill="#222">0.7680</text>
</g>
</svg>
</body></html>
